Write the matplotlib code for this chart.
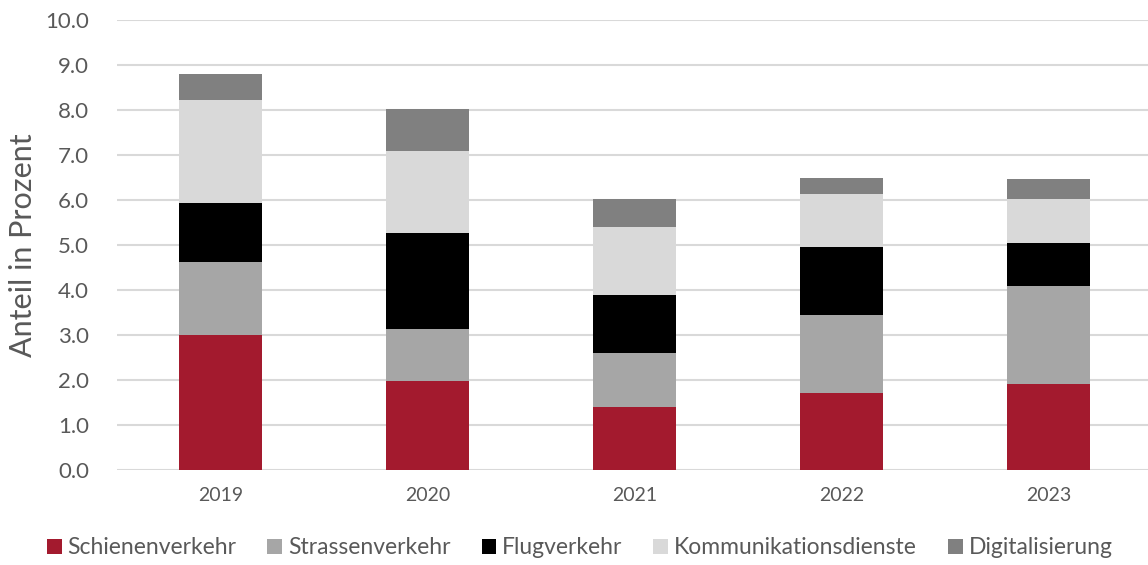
import matplotlib.pyplot as plt
import numpy as np

plt.rcParams['font.family'] = ['Lato', 'DejaVu Sans']

years = ['2019', '2020', '2021', '2022', '2023']
schiene = [3.00, 1.98, 1.40, 1.71, 1.91]
strasse = [1.62, 1.15, 1.20, 1.73, 2.18]
flug = [1.31, 2.13, 1.29, 1.52, 0.95]
komm = [2.29, 1.82, 1.51, 1.17, 0.98]
digital = [0.58, 0.95, 0.62, 0.36, 0.45]

series = [
    ('Schienenverkehr', schiene, '#a31a2e'),
    ('Strassenverkehr', strasse, '#a6a6a6'),
    ('Flugverkehr', flug, '#000000'),
    ('Kommunikationsdienste', komm, '#d9d9d9'),
    ('Digitalisierung', digital, '#808080'),
]

fig = plt.figure(figsize=(11.48, 5.65), dpi=100)
ax = fig.add_axes([117 / 1148, 95 / 565, 1035 / 1148, 450 / 565])

x = np.arange(len(years))
bottom = np.zeros(len(years))
for name, vals, col in series:
    ax.bar(x, vals, width=0.4, bottom=bottom, color=col, label=name, zorder=3)
    bottom += np.array(vals)

ax.set_xlim(-0.5, 4.5)
ax.set_ylim(0, 10)
ax.set_yticks(np.arange(0, 10.1, 1))
ax.set_yticklabels([f'{v:.1f}' for v in np.arange(0, 10.1, 1)])
ax.set_xticks(x)
ax.set_xticklabels(years)
ax.grid(axis='y', color='#d9d9d9', linewidth=1.5, zorder=0)
for s in ax.spines.values():
    s.set_visible(False)
ax.tick_params(axis='both', length=0, colors='#595959', labelsize=16)
ax.tick_params(axis='x', labelsize=14, pad=12)
ax.tick_params(axis='y', pad=20)
ax.set_ylabel('Anteil in Prozent', fontsize=22, color='#595959', labelpad=6)

leg = fig.legend(loc='center', bbox_to_anchor=(0.505, 17 / 565), ncol=5, frameon=False,
                 fontsize=16.5, handlelength=0.65, handleheight=0.65, handletextpad=0.25,
                 columnspacing=1.35)
for t in leg.get_texts():
    t.set_color('#595959')

fig.savefig('out.png', dpi=100)
